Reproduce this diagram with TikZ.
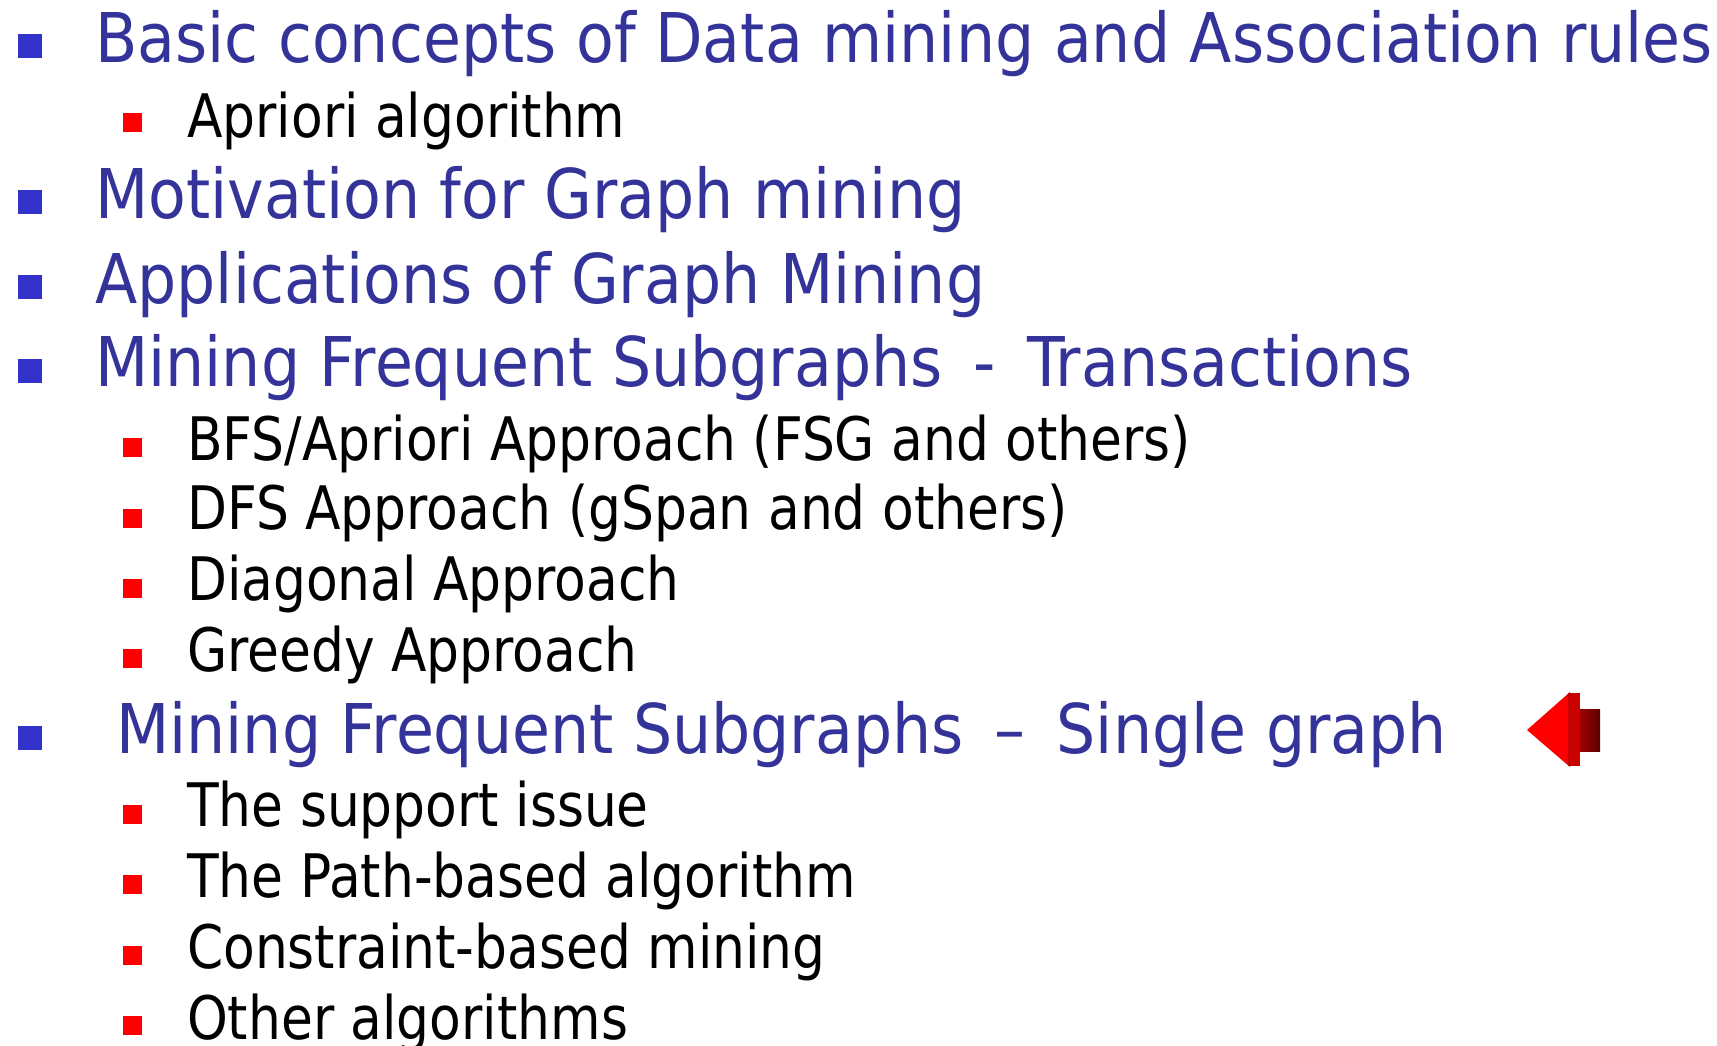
\documentclass[tikz,border=0pt]{standalone}
\usepackage{fontspec}
\setmainfont[FakeStretch=0.88]{DejaVu Sans}
\newfontfamily\headfont[FakeStretch=0.900]{DejaVu Sans}
\newfontfamily\subfont[FakeStretch=0.864]{DejaVu Sans}
\definecolor{titleblue}{HTML}{333399}
\definecolor{bulletblue}{HTML}{3333CC}
\definecolor{arrowdark}{HTML}{C80000}
\begin{document}
\begin{tikzpicture}[x=1pt,y=-1pt,
  lvlone/.style={anchor=base west,inner sep=0pt,text=titleblue,font=\headfont\fontsize{68.6}{70}\selectfont},
  lvltwo/.style={anchor=base west,inner sep=0pt,text=black,font=\subfont\fontsize{60}{62}\selectfont},
  bblue/.style={fill=bulletblue,draw=none,inner sep=0pt,minimum size=24pt},
  bred/.style={fill=red,draw=none,inner sep=0pt,minimum size=19pt}]
\useasboundingbox[fill=white] (0,0) rectangle (1717,1045);
% level-one items
\node[bblue] (b1) at (30,46) {};
\node[lvlone] (t1) at (95,62) {Basic concepts of Data mining and Association rules};
\node[bblue] (b3) at (30,201.5) {};
\node[lvlone] (t3) at (95,218) {Motivation for Graph mining};
\node[bblue] (b4) at (30,286.5) {};
\node[lvlone] (t4) at (95,303) {Applications of Graph Mining};
\node[bblue] (b5) at (30,370.5) {};
\node[lvlone] (t5) at (95,386) {Mining Frequent Subgraphs \,-\, Transactions};
\node[bblue] (b10) at (30,737.5) {};
\node[lvlone] (t10) at (116,753) {Mining Frequent Subgraphs \,–\, Single graph};
% level-two items
\node[bred] (b2) at (132.5,122.5) {};
\node[lvltwo] (t2) at (187,137) {Apriori algorithm};
\node[bred] (b6) at (132.5,447) {};
\node[lvltwo] (t6) at (187,460) {BFS/Apriori Approach (FSG and others)};
\node[bred] (b7) at (132.5,518) {};
\node[lvltwo] (t7) at (187,529) {DFS Approach (gSpan and others)};
\node[bred] (b8) at (132.5,588) {};
\node[lvltwo] (t8) at (187,600) {Diagonal Approach};
\node[bred] (b9) at (132.5,658) {};
\node[lvltwo] (t9) at (187,671) {Greedy Approach};
\node[bred] (b11) at (132.5,814) {};
\node[lvltwo] (t11) at (187,826) {The support issue};
\node[bred] (b12) at (132.5,884) {};
\node[lvltwo] (t12) at (187,897) {The Path-based algorithm};
\node[bred] (b13) at (132.5,955) {};
\node[lvltwo] (t13) at (187,968) {Constraint-based mining};
\node[bred] (b14) at (132.5,1025) {};
\node[lvltwo] (t14) at (187,1039) {Other algorithms};
% pointer arrow
\fill[red] (1527,730) -- (1570,692) -- (1570,767) -- cycle;
\fill[arrowdark] (1568,693) rectangle (1580,766);
\shade[left color=arrowdark!80!black,right color=arrowdark!45!black] (1580,709) rectangle (1600,751);
\end{tikzpicture}
\end{document}
